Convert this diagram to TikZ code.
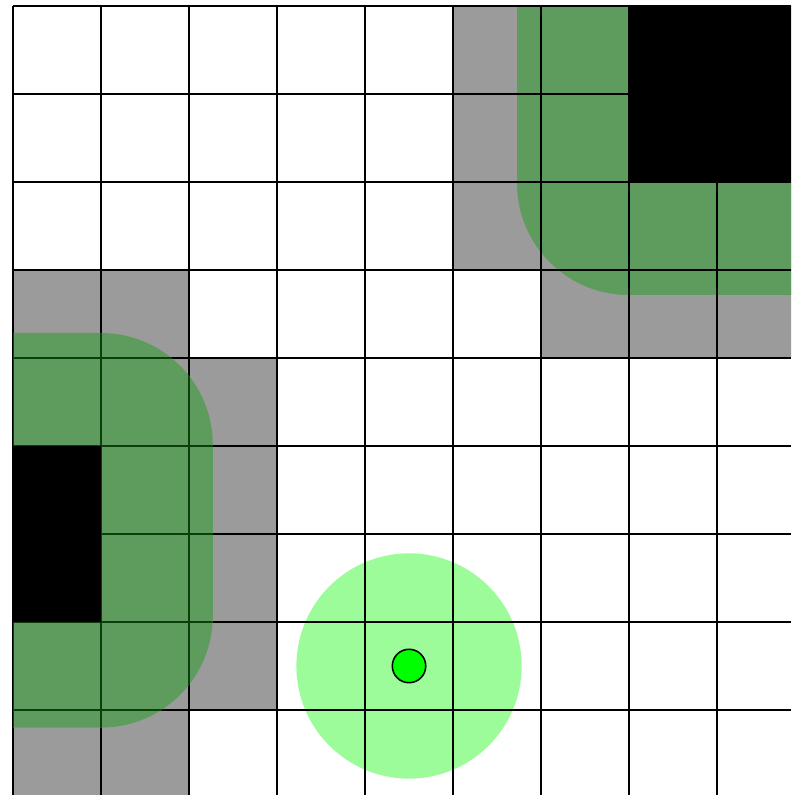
\documentclass[tikz,border=0pt]{standalone}
\usepackage{tikz}
\usetikzlibrary{positioning}
\usepackage{xcolor}
\definecolor{Infl}  {HTML}{9B9B9B}
\definecolor{CSpace}{HTML}{5E9C5E}
\definecolor{CLine} {HTML}{0B3F0B}
\definecolor{Sense} {HTML}{9DFC9A}
\definecolor{Robot} {HTML}{00FF00}
\tikzset{
  occ/.style={fill=black},
  infl/.style={fill=Infl},
  cspace/.style={fill=CSpace, rounded corners=1.27cm},
  sense/.style={fill=Sense},
  gridln/.style={draw=black, line width=0.65pt},
  robotdot/.style={
    circle, draw=black, fill=Robot,
    line width=0.5pt, minimum size=0.38cm, inner sep=0pt,
  },
}

\begin{document}
\begin{tikzpicture}[x=1cm,y=-1cm]
    \useasboundingbox (-0.148,-0.068) rectangle (8.841,8.966);
    \fill[white] (-0.148,-0.068) rectangle (8.841,8.966);
    \coordinate (robot) at (4.5,7.5);

    % cells, obstacles and their grown regions
    \begin{scope}
      \clip (0,0) rectangle (8.841,8.966);
      \fill[infl] (5,0) rectangle (9,3);  \fill[infl] (6,3) rectangle (9,4);
      \fill[infl] (0,3) rectangle (2,9);  \fill[infl] (2,4) rectangle (3,8);
      \fill[cspace] (5.727,-2) rectangle (11,3.284);
      \fill[sense] (robot) circle (1.28);
    \end{scope}

    % grid
    \foreach \i in {0,...,8} {
      \draw[gridln] (\i,0) -- (\i,8.966);
      \draw[gridln] (0,\i) -- (8.841,\i);
    }

    % left grown obstacle, grid seen through it
    \begin{scope}
      \clip (0,0) rectangle (8.841,8.966);
      \fill[cspace] (-2,3.716) rectangle (2.27,8.2);
      \clip[rounded corners=1.27cm] (-2,3.716) rectangle (2.27,8.2);
      \foreach \i in {0,...,8} {
        \draw[gridln,draw=CLine] (\i,0) -- (\i,8.966);
        \draw[gridln,draw=CLine] (0,\i) -- (8.841,\i);
      }
    \end{scope}

    \fill[occ] (7,0) rectangle (8.841,2);
    \fill[occ] (0,5) rectangle (1,7);

    \node[robotdot] (rob) at (robot) {};
  \end{tikzpicture}
\end{document}
